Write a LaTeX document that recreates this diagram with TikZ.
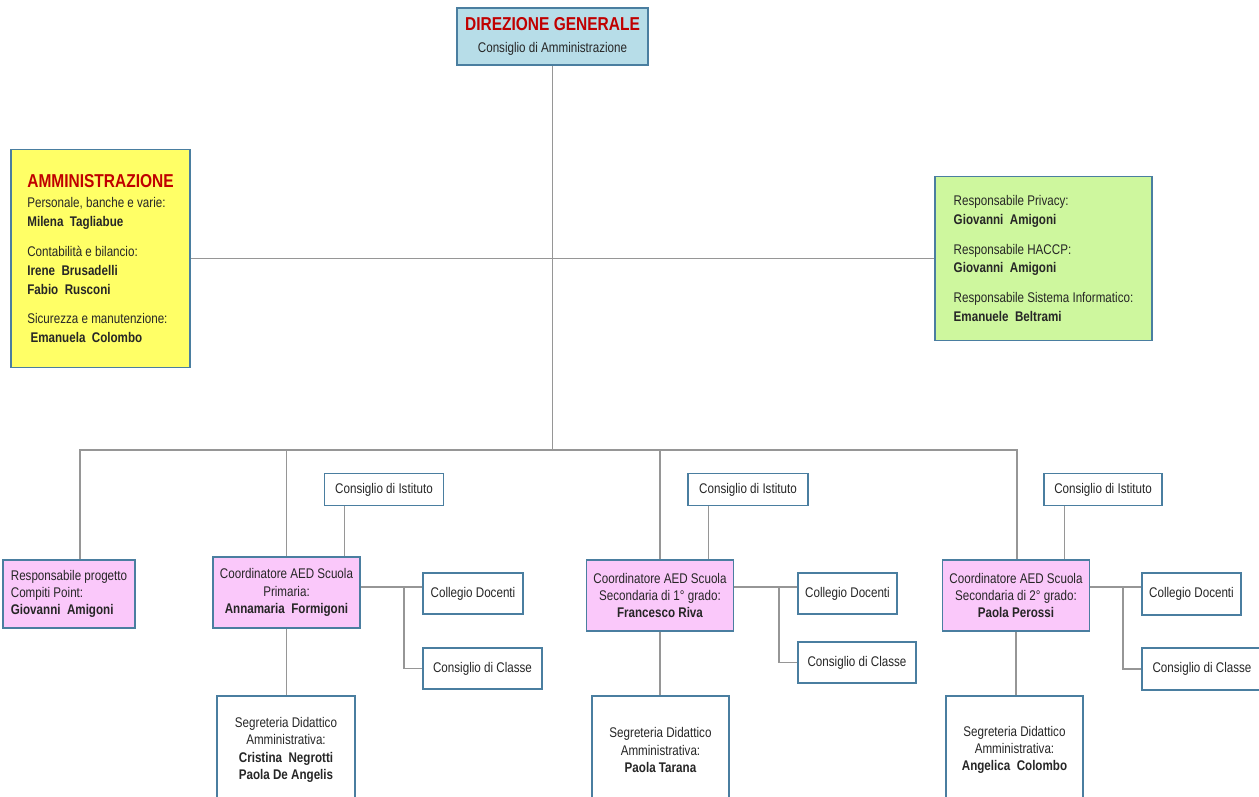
\documentclass[tikz,border=0pt]{standalone}
\usepackage{fontspec}
\setmainfont{Liberation Sans}[FakeStretch=0.83]

\definecolor{boxline}{RGB}{74,126,160}
\definecolor{dirfill}{RGB}{183,221,232}
\definecolor{ammfill}{RGB}{255,255,102}
\definecolor{respfill}{RGB}{206,247,158}
\definecolor{pinkfill}{RGB}{250,200,250}
\definecolor{titlered}{RGB}{192,0,0}
\definecolor{wirecol}{RGB}{150,150,150}

\newcommand\orgbody{\fontsize{10.5}{13}\selectfont}
\newcommand\orgwide{\fontsize{10.5}{14.2}\selectfont}
\newcommand\orgtitle{\fontsize{14}{17}\selectfont\bfseries\color{titlered}}

\begin{document}
\begin{tikzpicture}[x=0.75pt,y=-0.75pt,
	box/.style={draw=boxline,line width=1.2pt,inner sep=0pt,text=black!85,font=\orgbody},
	sz/.style 2 args={minimum width=#1*0.75pt,minimum height=#2*0.75pt},
	conn/.style={draw=wirecol,line width=0.9pt}]

	\useasboundingbox[fill=white] (0,0) rectangle (1259,796);

	% top of the chart
	\node[box,fill=dirfill,sz={191}{57},align=center] (dir) at (552.5,36.5)
		{{\orgtitle DIREZIONE GENERALE}\\[3pt] Consiglio di Amministrazione};

	\node[box,fill=ammfill,sz={179}{218},align=left,font=\orgwide] (amm) at (100.5,258.5)
		{{\orgtitle AMMINISTRAZIONE}\\[1pt]
		 Personale, banche e varie:\\ \textbf{Milena\ \ Tagliabue}\\[8pt]
		 Contabilità e bilancio:\\ \textbf{Irene\ \ Brusadelli}\\ \textbf{Fabio\ \ Rusconi}\\[8pt]
		 Sicurezza e manutenzione:\\ \textbf{\ Emanuela\ \ Colombo}};

	\node[box,fill=respfill,sz={217}{164},align=left,font=\orgwide] (resp) at (1043.5,258.5)
		{Responsabile Privacy:\\ \textbf{Giovanni\ \ Amigoni}\\[8pt]
		 Responsabile HACCP:\\ \textbf{Giovanni\ \ Amigoni}\\[8pt]
		 Responsabile Sistema Informatico:\\ \textbf{Emanuele\ \ Beltrami}};

	% coordinators
	\node[box,fill=pinkfill,sz={132}{68},align=left] (compiti) at (69,594)
		{Responsabile progetto\\ Compiti Point:\\ \textbf{Giovanni\ \ Amigoni}};
	\node[box,fill=pinkfill,sz={147}{71},align=center] (prim) at (286.5,592.5)
		{Coordinatore AED Scuola\\ Primaria:\\ \textbf{Annamaria\ \ Formigoni}};
	\node[box,fill=pinkfill,sz={147}{71},align=center] (sec1) at (660,595.5)
		{Coordinatore AED Scuola\\ Secondaria di 1° grado:\\ \textbf{Francesco Riva}};
	\node[box,fill=pinkfill,sz={147}{71},align=center] (sec2) at (1016,595.5)
		{Coordinatore AED Scuola\\ Secondaria di 2° grado:\\ \textbf{Paola Perossi}};

	% councils
	\node[box,fill=white,sz={119}{32}] (ist1) at (384,489.5) {Consiglio di Istituto};
	\node[box,fill=white,sz={120}{32}] (ist2) at (748,489.5) {Consiglio di Istituto};
	\node[box,fill=white,sz={118}{32}] (ist3) at (1103,489.5) {Consiglio di Istituto};

	\node[box,fill=white,sz={100}{41}] (cd1) at (473,593.5) {Collegio Docenti};
	\node[box,fill=white,sz={99}{41}] (cd2) at (847.5,593.5) {Collegio Docenti};
	\node[box,fill=white,sz={99}{42}] (cd3) at (1191.5,594) {Collegio Docenti};

	\node[box,fill=white,sz={119}{41}] (cc1) at (482.5,668.5) {Consiglio di Classe};
	\node[box,fill=white,sz={118}{41}] (cc2) at (857,662.5) {Consiglio di Classe};
	\node[box,fill=white,sz={120}{42}] (cc3) at (1202,669) {Consiglio di Classe};

	% secretaries (cut by the page edge)
	\node[box,fill=white,sz={138}{108},align=center] (seg1) at (286,750)
		{Segreteria Didattico\\ Amministrativa:\\ \textbf{Cristina\ \ Negrotti}\\ \textbf{Paola De Angelis}};
	\node[box,fill=white,sz={137}{108},align=center] (seg2) at (660.5,750)
		{Segreteria Didattico\\ Amministrativa:\\ \textbf{Paola Tarana}};
	\node[box,fill=white,sz={137}{108},align=center] (seg3) at (1014.5,750)
		{Segreteria Didattico\\ Amministrativa:\\ \textbf{Angelica\ \ Colombo}};

	% connectors
	\coordinate (busL) at (80,450);
	\coordinate (busR) at (1017,450);
	\draw[conn] (dir.south) -- (dir.south |- busL);
	\draw[conn] (amm.east) -- (resp.west);
	\draw[conn] (compiti.north -| busL) -- (busL) -- (busR) -- (sec2.north -| busR);
	\draw[conn] (prim.north) -- (prim.north |- busL);
	\draw[conn] (sec1.north) -- (sec1.north |- busL);

	\foreach \p/\i/\d/\c/\s/\jx in {prim/ist1/cd1/cc1/seg1/404,sec1/ist2/cd2/cc2/seg2/779,sec2/ist3/cd3/cc3/seg3/1123}{
		\coordinate (t\i) at ([xshift=15.75pt]\i.south west);
		\coordinate (j\p) at (\jx,587);
		\draw[conn] (t\i) -- (t\i |- \p.north);
		\draw[conn] (\p.east |- j\p) -- (j\p) -- (j\p -| \d.west);
		\draw[conn] (j\p) |- (\c.west);
		\draw[conn] (\p.south) -- (\p.south |- \s.north);
	}

	%\draw[step=50,gray,ultra thin] (0,0) grid (1259,796);
\end{tikzpicture}
\end{document}
